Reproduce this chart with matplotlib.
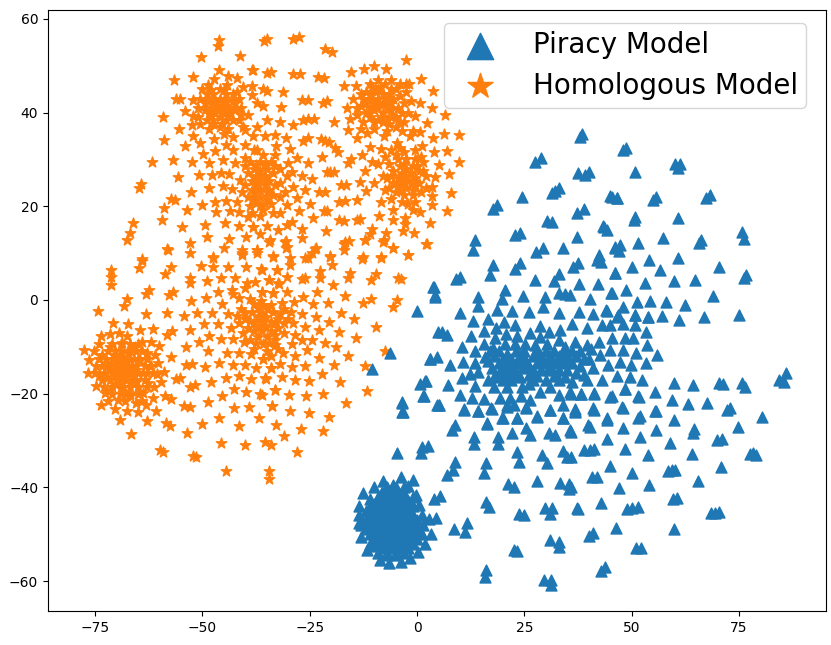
# t-SNE scatter of the two models
import numpy as np, matplotlib
matplotlib.use('Agg')
import matplotlib.pyplot as plt

# Homologous model, by region of the map
homo_top_left = [(-46.1,55.5),(-46.3,54.2),(-50.4,51.8),(-41.2,52.1),(-46.1,49.1),(-38.5,49.1),(-56.6,47),(-52.2,47.6),(-44.1,47.9),(-42,47.3),(-47.3,47.1),(-56.1,43),(-55.2,43),(-59.1,39),(-55.4,36.5),(-58.9,34.2),(-54,32.9),(-61.8,29.5),(-56.8,29.9),(-52.4,29.5),(-55.7,26.2),(-50.8,26.6),(-64.9,24),(-64.4,24.8),(-52.6,23),(-48.5,23.9),(-57.3,21.5),(-56.4,21.3),(-58.9,19.7),(-53.5,19.1),(-50,20.3),(-66.3,16.5),(-59.5,17),(-66.9,14.3),(-67.5,12.8),(-54.8,15.6),(-49.5,16),(-49,13.4),(-52.9,12.1),(-58.2,10.9),(-52.9,10.1),(-64,8.7),
(-44.7,16.4),(-41.4,15.8),(-38.3,15.5),(-43.9,13),(-39.9,13.5),(-44.9,11),(-40.8,10.7),(-37.3,10.7),(-47.6,9.1),(-40.8,9.6),(-46.9,18.7),(-43.5,18.9),(-41.4,18.7),(-39.5,17.7),(-47,21),(-44.5,21.2),(-41.9,21),(-45.3,24.4),(-43.2,23.7),(-40.8,23.1),(-47.7,26.7),(-45.7,27.2),(-43.8,26.9),(-41.2,25.6),(-48.4,29.3),(-45.3,29.9),(-42.4,29.3),(-40.2,30.3),(-49.9,31.1),(-47,31.9),(-42.8,32.1),(-40,33),(-37.3,32.1),(-44.6,33.1),(-50.5,33.6),(-52.1,35),(-47.4,34.3),(-42.8,34.7),(-38.3,34.9),(-52.5,37.3),(-37.3,37),(-54,40.4),(-52.1,42.7),(-50.2,45),(-48.8,45.9),(-44.2,45.9),(-40.6,45.4),(-38.5,45.7),(-38.5,43.8),(-37.2,42),(-52.1,39.2),(-39.3,39.5),(-40,36.3)]

homo_blob_a = [(-46,41),(-45,42),(-47,42),(-46,43),(-44,41),(-48,41),(-45,40),(-47,40),(-46,39),(-44,39.5),(-48,39.5),(-43,42.5),(-49,42.5),(-44.5,44),(-47.5,44),(-42.5,40.5),(-49.5,40.5),(-43,38.5),(-49,38.5),(-45.5,37.5),(-47.5,37.5),(-50.5,43),(-41.5,43),(-41,41),(-50.5,37.5),(-41.5,38.5),(-46,45),(-42,44.5),(-48.5,36.5),(-44,36.5),
(-45.5,41.5),(-46.5,40.5),(-44.5,42.5),(-47.5,42.5),(-44.5,38.5),(-47.5,38.5),(-43.5,40),(-48.5,40),(-46,37),(-42.5,42),(-49.5,42),(-43,44),(-49,44),(-51,41),(-41,39.5),(-51,39),(-40.5,37),(-45,35.5),(-48,44.8),(-45,44.8)]

homo_top_mid = [(-35.6,55.3),(-35,55.7),(-28.8,55.7),(-27.4,56.2),(-21.4,53.5),(-19.9,53),(-2.5,51.3),(-38.3,49.1),(-34.1,48.7),(-35,48.4),(-28.8,48.2),(-27.2,48.3),(-23,47.7),(-21.7,47.3),(-15.4,48.6),(-12.3,49.3),(-10.1,50),(-7.2,49.4),(0.9,47.1),(-1.8,46.1),(-17,45.6),(-14.2,45.7),(3.8,44.6),(-31.3,44.5),(-35,44.7),(-36,45),(-26.9,42.7),(-25.5,42.7),(-20.9,42.4),(-21.8,42.1),(-31.8,41.2),(-35.8,41.4),(-16.4,41),(3.4,40.9),(0.6,42),(-25.5,38.6),(-24,38.7),(-26.5,38.4),(-19.3,37.9),(-29,37.3),(-31.9,37.9),(-35,38.4),(-15.6,38.6),(-0.4,39.2),(6.6,39.5),(2.4,37.7),(-16.2,36.3),(-14,34.5),(0.6,35.9),(3.7,34.6),(6.3,35.4),(9.8,35.3),(-1.6,34.9),(-7.7,34.9),(-11.6,35.7),(-33,35.2),(-30.5,34.6),(-35.4,34.9),(-26.5,34),(-25.3,34.5),(-22.4,34.3),(-20.6,33.8),(-21.5,34),(-19.1,32.4),(-18.5,31.6),(-10.9,32.6),(-8.4,32.3),(-4.7,33.5),(-4,32.5),(1.1,32.8),(7,31.9),(4,31.5),(9.7,29.4),(5.1,28.8),(7.4,26.8),(4.3,26.2),(8,22.8),(3.5,24.2),(3.4,22.1),(3.4,20.2),(7,18.9),(0.7,18.8),(-1,19.2),(-5.5,19.2),(-8.9,18),(-5.5,17),(-2.8,17.5),(-2.8,16.2),(3.1,16.5),(-3.3,14.7),(-0.7,14.3),(2.3,12),(-5.5,11),(-2.1,9.6),(-7.2,14.3),(-7.8,12.8),(-10.5,15.1),(-10.9,14.1),(-12.2,12.8),(-15.9,12.5),(-17.1,12),(-17,10.7),(-21.2,14.8),(-13.3,17.2),(-14,17.1),(-18.3,17),(-17.1,16.8),(-24.3,17.5),(-21.7,18.9),(-20.9,18.9),(-27.6,18.9),(-31.9,18.5),(-30.2,20.3),(-13.9,21.4),(-18.3,21),(-16.7,21.1),(-25,20.5),(-27.9,21.7),(-22.8,23),(-21.5,23),(-26.2,23.5),(-11.9,23.2),(-17.8,24.6),(-16.5,24.6),(-13.3,25.2),(-24.4,25.9),(-26.9,26.5),(-21,27.4),(-19.3,27.4),(-20.2,27.4),(-12.2,27.5),(-25.5,29.2),(-16,29.3),(-15.5,30),(-22.2,30.6),(-27.9,30.3),(-12.9,31),(-29.6,32.2),(-32.8,32.8),(-29.2,27.4),(-30,29.2),(-28.8,24.2),(-30.7,23.1),(-30.2,26.4),(-29.2,16.7),(-30.4,16),(-32.3,15),(-34.9,15.7),(-36.6,14.1),(-38.3,15.5),(-34.2,12.7),(-30.5,12.5),(-30.5,11),(-26.9,15.1),(-26.9,13.2),(-23.5,11),(-24.5,10),(-20.2,9.4),(-12.6,9.1),(-8.4,9.1),(-33.5,9.4),(-29.7,9),(-37.2,10.7),(-26.1,9)]

homo_blob_b = [(-13,44),(-14,41),(-11,46),(-9,47),(-6,47),(-4,46),(-2.5,44.5),(-1.5,42.5),(-2,40),(-3,38),(-5,37),(-7,36),(-10,36.5),(-12.5,38),(-14,39.5),(-15,43),(-12,42),(-11,39),(-9,38.5),(-6,39),(-4.5,41),(-4,43.5),(-6,45),(-8.5,45.5),(-11,44),(-1,36),
(-8,42),(-9,43),(-7,43),(-8,44),(-10,42),(-6,42),(-9,41),(-7,41),(-8,40),(-10,40.5),(-6,40.5),(-9.5,44.5),(-6.5,44),(-11,43),(-5.5,43),(-8,38),(-9,45),(-7.5,46),(-12,40),(-13,36.5),(-3.5,36),(-9,42),(-7,42),
(-11,41),(-5,39),(-5,45),(-12,44.5),(-3,42),(-3.5,40),(-10,38),(-7,38.5),(-12.5,43),(-2.5,46),(-8.5,39),(-10.5,45.5),(-4,38),(-6.5,37.5),(-13,41.5)]

homo_blob_c = [(-2.5,26),(-3.5,27),(-1.5,27),(-2.5,28),(-4.5,26),(-0.5,26),(-3.5,25),(-1.5,25),(-2.5,24),(-4.5,24.5),(-0.5,24.5),(-4,28.5),(-1,28.5),(-5.5,27.5),(0.5,27.5),(-5.5,25),(0.5,25),(-3,22.5),(-1,22.5),(-5,23),(1,23),(-2.5,30),(-4.5,30),(-0.5,30),(-6.5,29),(1.5,29.5),(-7,26),(2,26.5),(-6,21.5),(-2,20.5),(-0.5,32),(-3,31.5),(-6,32),(-7.5,30.5),(-9,29),(-8,26.5),(-7.5,23.5),(-8.5,21),(-10,25),(-10.5,29.5),
(-3,26.5),(-2,25.5),(-4,23.5),(-1,23.5),(1.5,27.5),(-6,26.5),(-6.5,24),(2,24),(-3.5,21),(-0.5,21),(-3,29),(0,28.5),(1,30.5),(-5,31)]

homo_blob_d = [(-36.6,25.5),(-37.5,26.5),(-35.5,26.5),(-36.5,27.5),(-38.5,25.5),(-34.5,25.5),(-37.5,24.5),(-35.5,24.5),(-36.5,23.5),(-38.5,23.5),(-34.5,23.5),(-38,28),(-35,28),(-39.5,27),(-33.5,27),(-36.5,22),(-38,21.5),(-35,21.5),(-36.5,20),(-36.5,29.5),(-39,29.5),(-34,29.5),(-40,24.5),(-33,24.5),(-34,20.5),(-39,20),(-36,31),(-33,31),(-38,32),(-32,28),(-32,22),(-33.5,18.5),(-36.5,18),(-32,25),(-38.5,18.5),
(-37,25),(-36,26),(-35,23),(-38,23),(-37.5,20.8),(-35.5,20.5),(-37.5,28.8),(-35.5,29),(-39.5,22),(-33.5,22.5),(-33,28.5),(-40,28.5),(-36,19.3)]

homo_left = [(-71.4,6.3),(-71.3,5),(-71.3,3.2),(-64.2,8.4),(-64.9,6.8),(-57.4,7),(-58.7,5.6),(-58.1,10.6),(-50.4,7.3),(-47.6,8.9),(-47.5,7.1),(-44,7.1),(-39.9,7),(-36.4,6.6),(-40.9,10),(-37.2,10),(-32.7,6.4),(-53,4.7),(-52.9,3.6),(-48.9,4.1),(-45.6,4.6),(-42.4,4.7),(-39.7,3.7),(-37.7,3.9),(-34.6,4.3),(-32.3,3.6),(-62.4,2.2),(-63.2,1.2),(-56.8,1.7),(-57.8,1.1),(-46.3,1.8),(-43.2,2.2),(-43,1.2),(-40.1,2.5),(-36.1,1.8),(-33.5,1.4),(-49.2,0.4),(-52.6,-0.3),(-67.7,0.2),(-68.3,-1.3),(-74.3,-2.3),(-45.4,-0.8),(-41.5,0.4),(-38.9,0.2),(-36.3,-0.3),(-63.2,-3),(-58.3,-2.8),(-54.4,-3.5),(-51.2,-2.7),(-47.8,-2.8),(-44,-3),(-70.8,-4.9),(-67.4,-5.2),(-64.6,-6.5),(-61.6,-6.2),(-57.2,-6.7),(-58.2,-7.4),(-52.8,-6.4),(-49.6,-5.2),(-46.3,-5.2),(-43.3,-6),(-50.7,-8.9),(-48.5,-7.7),(-45.7,-8.4),(-42.8,-8.4),(-40.3,-8.9),(-53.8,-10),(-48.6,-11),(-44.3,-11.4),(-41.5,-11.4),(-38.7,-11.6),(-36,-12.6),(-34.1,-11.9),(-57.4,-12.1),(-53.9,-13.9),(-52.5,-13.7),(-49.3,-14.4),(-46.1,-13.5),(-43,-13.9),(-40.1,-13.9),(-37.5,-14.6),(-34.1,-14.6),(-56.2,-16.8),(-55.2,-16.7),(-52.9,-18.5),(-51.7,-18.2),(-48.1,-17.6),(-44.6,-16.6),(-41.4,-16.2),(-38.6,-16.9),(-35.3,-16.8),(-42.6,-19.1),(-39.8,-19.7),(-36.6,-20.1),(-33.1,-19.2),(-58.7,-20.6),(-57.4,-21.2),(-45.4,-20.6),(-48.6,-21.8),(-54.4,-22.7),(-52.9,-22.9),(-42.6,-23.1),(-39.1,-22.9),(-33.9,-22.6),(-36.8,-25.2),(-46.1,-25.3),(-50,-26.5),(-58.5,-26.3),(-57.6,-26.9),(-41.6,-27),(-32.9,-26.6),(-53.7,-28.3),(-66.7,-28.6),(-45.7,-30.6),(-40.1,-31),(-35.4,-30.4),(-60,-32),(-59.3,-32.5),(-52.3,-33.4),(-51.5,-33.6),(-44.6,-36.6),(-34.6,-36.6),(-34.4,-38.3)]

homo_blob_e = [(-77.6,-10.7),(-75.2,-11),(-76.4,-12.8),(-76.6,-15.6),(-74.8,-14.2),(-74.8,-18.3),(-73.7,-7.8),(-74,-9.4),(-71.5,-7.2),(-69.4,-7.1),(-67.7,-7.8),(-64.2,-8.9),(-62,-8.9),(-60.1,-9.8),(-61,-11.7),(-60.3,-13.5),(-59,-15.3),(-60.7,-15.8),(-59.7,-17.6),(-61.2,-18.5),(-61.6,-21),(-63.2,-22.5),(-60.8,-23.7),(-63,-25.8),(-65.1,-24),(-67.5,-23.6),(-70.4,-23.3),(-73.6,-22.5),(-69.2,-25.6),(-65.5,-22.1),(-72.7,-19.9),(-69.6,-21.3),(-66.9,-20.6),(-63.8,-19.9),(-62.6,-17.8),(-62.2,-14.2),(-63,-11.4),(-65.7,-10),(-68.8,-9.2),(-71.5,-10),(-73.5,-11.7),(-74,-16.3),(-71.5,-19.2),(-68,-19.9),(-65,-18.5),(-63.8,-15.6),(-64.6,-12.8),(-67.3,-11.4),(-70.4,-11.7),(-72.3,-13.9),(-72.3,-16.7),
(-68.5,-14.2),(-69.5,-13.2),(-67.5,-13.2),(-68.5,-12.2),(-70.5,-14.2),(-66.5,-14.2),(-69.5,-15.2),(-67.5,-15.2),(-68.5,-16.2),(-70.5,-16.2),(-66.5,-16.2),(-70.5,-12.8),(-66,-12.5),(-71.5,-15),(-65.5,-15),(-69,-17.5),(-67,-17.5),(-70.5,-18),(-65.5,-17.5),(-68.5,-18.5),
(-71,-9.5),(-69,-9.5),(-67,-9.5),(-65,-9.5),(-72,-11),(-70.5,-11),(-69,-11),(-67,-11),(-65.5,-11),(-64,-11),(-74,-12.5),(-72.5,-12.5),(-71,-12.5),(-69,-12.5),(-67,-12.5),(-65,-12.5),(-63,-12.5),(-73.5,-14),(-71.5,-14),(-69.5,-14),(-67.5,-14),(-65.5,-14),(-63.5,-14),(-62,-14),(-75,-15.5),(-73,-15.5),(-71,-15.5),(-69,-15.5),(-67,-15.5),(-65,-15.5),(-63,-15.5),(-61.5,-15.5),(-73.5,-17),(-71.5,-17),(-69.5,-17),(-67.5,-17),(-65.5,-17),(-63.5,-17),(-73,-18.5),(-71,-18.5),(-69,-18.5),(-67,-18.5),(-65,-18.5),(-63,-18.5),(-71,-20),(-69,-20),(-67,-20),(-65,-20),(-72,-21.5),(-68,-21.5),(-64,-21.5)]

homo_blob_f = [(-36.1,-4.7),(-37.1,-3.7),(-35.1,-3.7),(-36.1,-2.7),(-38.1,-4.7),(-34.1,-4.7),(-37.1,-5.7),(-35.1,-5.7),(-36.1,-6.7),(-38.1,-6.7),(-34.1,-6.7),(-38.5,-2.5),(-33.5,-2.5),(-40,-4),(-32.5,-4),(-39.5,-6),(-32.5,-6),(-37,-8),(-35,-8),(-36,-9.5),(-39,-8.5),(-33,-8.5),(-36,-1),(-38,-0.8),(-34,-1),(-41,-2),(-31,-2),(-41.5,-5),(-31,-7),(-35,-11),(-38,-10.5),(-32.5,-10.5),
(-40.5,-7),(-40,-2.8),(-37,-1.8),(-35,-2),(-32,-3),(-31,-5),(-33,-7.5),(-37.5,-9.2),(-34.5,-9.2),(-39,-4.5),(-33,-5),(-42,-3.5),(-30,-4),(-36.5,-3.5),(-35.5,-5.5)]

homo_mid = [(-34.4,12.4),(-30.8,12.4),(-30.4,11.4),(-16.8,12.4),(-12.1,12.7),(-7.9,12.4),(-5.5,11),(2.1,12),(-2,9.6),(-33.5,9.2),(-29.6,7.5),(-25.3,8.9),(-23.8,10.8),(-20.3,9.2),(-19.9,7.5),(-12.9,8.7),(-8.5,8.9),(-36.2,6.5),(-32.6,6.4),(-22.6,6.2),(-22.6,4.6),(-15.6,5.7),(-16.2,4.6),(-9.6,5.5),(-10.7,4.3),(-4.4,4.6),(-3.7,4.4),(-30.2,4.8),(-26.9,4.4),(-26,4.6),(-34.6,4.3),(-32.2,3.5),(-19.7,3.2),(-23.2,1.8),(-16.8,0.8),(-26.5,0.6),(-30.4,1.6),(-33.5,1.4),(-36.1,1.8),(-10.8,0.2),(-12.7,-0.6),(-4.7,0),(-5.7,-1.4),(-20.7,-0.7),(-24.2,-0.9),(-28.7,-0.5),(-31.5,-0.7),(-17.8,-2.7),(-14.8,-4),(-26.9,-2.9),(-23.5,-3.6),(-29.4,-2.5),(-20.5,-4.6),(-29,-5),(-26.1,-5.8),(-22.8,-6.4),(-18.3,-6.8),(-9.6,-5.8),(-14.2,-8.2),(-24.4,-8.6),(-26.7,-8.6),(-28.4,-7.5),(-21.4,-9.1),(-19,-10.1),(-29.2,-9.4),(-33.1,-9.6),(-25.6,-10.7),(-31.3,-11.4),(-28.4,-12),(-22.9,-12.3),(-16,-12),(-7.5,-10.9),(-35.8,-12.7),(-31.9,-13.7),(-29.2,-14.4),(-26.1,-14.2),(-19.4,-13.9),(-12.1,-14.1),(-34.1,-14.5),(-22.1,-15.8),(-31.5,-16.4),(-28.4,-17),(-25.2,-17.2),(-35.4,-16.7),(-18,-17.6),(-33.1,-19.2),(-29.8,-20.2),(-25.9,-20.4),(-21.8,-20),(-11.7,-19.4),(-36.2,-20.3),(-16.6,-21.9),(-33.8,-22.6),(-29.6,-23.7),(-25.2,-24.2),(-20.5,-24.9),(-28,-32.5),(-31,-29),(-27,-27.5),(-22,-28),(-34,-31)]

# Piracy model, by region of the map
piracy_top = [(38.5,35.4),(38,34.8),(27.5,29.5),(29,30.2),(37.6,27.2),(39.2,26.7),(40,27.3),(32.2,23.3),(31.4,22.9),(33,23.8),(45.4,22),(46.5,21.7),(24.4,21.9),(17.8,19.5),(18.7,20.2),(38.8,19.5),(37.2,18.6),(30.2,16.9),(31.4,16.7),(22.8,13.8),(23.9,14.3),(43.3,15.8),(44.2,15),(37.2,13.5),(13.5,12.8),(13.1,10.6),(29.3,11),(27.7,10.3),(34,11),(46.2,11),(41.9,8.5),(42.3,9.5),(24,7.8),(22.8,6.6),(37.6,7.8),(36.4,7.1),(17.6,7.4),(17,5.3),(10,5),(9.1,4.4),(27.4,4.2),(33,5.6),(31.8,4),(46.2,5.8),(37.8,3.4),(42.1,3.5),(4,2.8),(4.2,0.7),(20.5,2.1),(19.7,0.3),(24.8,0.8),(29.8,0.7),(29.4,-1.5),(34.5,1.3),(33,1.4),(35.7,1),(40.3,0.3),(45.4,1.4),(14.3,0.7),(14.1,-1.3),(10,-2.7),(18.6,-2.2),(22.1,-2.3),(26,-2.5),(33,-2.7),(37.8,-2.5),(41.1,-3.1),(44,-2.2),(46.9,-3.2),
(48.8,32.4),(48,32.1),(50.9,27.4),(60.2,29.1),(61.3,29),(60.7,28.1),(45,22.2),(46.7,21.7),(55.1,21.3),(55.7,21.9),(67.4,21.7),(68.3,22.4),(50.5,17),(50.9,17.7),(60.8,17.4),(43.6,15.6),(75.7,14.6),(76.1,13.1),(57.3,13.3),(46.2,11.4),(47.4,11.7),(47,10.5),(51.4,12.1),(65.6,12.1),(66.2,12.7),(60.8,8.9),(54.1,8.5),(42.9,8.1),(50.1,7),(56.7,6.5),(70.3,7.1),(46.2,5.8),(76.1,4.6),(76.7,5.3),(53.2,3.7),(59.8,4),(64.7,4.2),(48.8,2.2),(45.2,1.4),(68.9,0.8),(51.2,-0.4),(54.4,-0.2),(58.1,-0.4),(62.5,-1.1),(48.1,-1.5),(44.3,-2.3),(50.7,-3.2),(53.8,-3.6),(57,-3.4),(61,-4.2),(66.8,-3.6),(75,-3.2),(46.6,-3.6),(3.8,2.8),(4.2,1),(4.9,-6.8),(-0.1,-2.3)]

piracy_middle = [(5.8,-6.8),(6.9,-7.5),(13.1,-4.4),(16.6,-4.1),(18.4,-5.9),(20.3,-4.8),(22.8,-5.3),(15.5,-6.6),(12.5,-7.7),(20.7,-7.3),(23.2,-7.7),(26.3,-7),(28.7,-5.6),(30.8,-6.8),(33.2,-6.5),(36,-5.1),(39.5,-6),(43,-5.3),(45,-5.3),(48,-5.1),(50.8,-3.2),(50.8,-5.3),(53.8,-3.7),(53.4,-6.8),(10.4,-10.1),(13.4,-11),(15.5,-9.3),(18.2,-8.2),(20.5,-9.3),(22.8,-9.4),(25.2,-9.4),(28.7,-8),(27.5,-9.6),(30.2,-9.3),(33,-8.5),(36.8,-8.9),(34.5,-10),(39.5,-9.6),(42.3,-8.9),(45,-10.7),(45.4,-8.2),(48.5,-8.2),(50.4,-8.2),(53.5,-9.6),(48.1,-10.7),(51,-11.4),(55.9,-11.7),(42.7,-11.7),(3,-12.5),(4.6,-12.1),(7.7,-13.9),(10.8,-13.2),(13.5,-13.5),(15.9,-12.1),(17.8,-10.3),(14.3,-15.3),(12.4,-15.8),(10.4,-16.7),(7.1,-18.1),(1.9,-17.4),(0.7,-18),(13.5,-18.4),(9.9,-20.3),(1.6,-20.6),(12.7,-21),(15.5,-21.2),(17.3,-23.1),(14.1,-23.6),(11,-23.3),(5.2,-22.4),(16.4,-26.3),(19.7,-25.3),(23.2,-25.1),(27.9,-24.8),(34.1,-25.1),(36.8,-23.3),(31,-23.5),(21,-22.8),(25.3,-22.9),(24.2,-20.6),(21.7,-21),(19.3,-21),(28.7,-19.6),(26.3,-21.4),(33,-20.3),(35.7,-19.6),(38.2,-20.1),(41.3,-19.9),(41.1,-23.1),(44.2,-25.3),(39.9,-26.7),(47.7,-22.9),(51.6,-20.6),(48.5,-19.1),(45.4,-20.6),(43,-17.1),(46.5,-16.2),(49.7,-16.4),(52.4,-17.1),(47.3,-13.2),(49.8,-13.9),(53.4,-13.4),(41.1,-14.6),(44.6,-13.9),(39.5,-17.1),(38.8,-12.5),(55.5,-23.8),(51.6,-25.3),(-6.3,-11.3),(-10.6,-14.8),(3,-12.5),(2.1,-17.4),(1.5,-20.5),(-3.6,-21.7),(-3.3,-23.9),(4.6,-22.4)]

piracy_dense = [(21,-13.5),(20,-12.5),(22,-12.5),(21,-11.5),(19,-13.5),(23,-13.5),(20,-14.5),(22,-14.5),(21,-15.5),(19,-15.5),(23,-15.5),(18,-12),(24,-12),(17.5,-14.5),(24.5,-14.5),(18,-16.5),(24,-16.5),(20,-17),(22,-17),(25.5,-13),(21,-18.5),(18,-18.5),(24.5,-18.5),(16.5,-17),
(27,-12),(29,-12),(31,-12),(33,-12),(35,-12),(37,-12),(28,-13.5),(30,-13.5),(32,-13.5),(34,-13.5),(36,-13.5),(38,-14),(27,-15),(29,-15),(31,-15),(33,-15),(35,-15),(37,-15.5),(28,-10.8),(30,-10.8),(32,-10.8),(34,-11),(36,-10.8),(27,-17),(30,-17),(33,-17),(36,-17.5),(39,-16),(31,-18.5),(26,-18),
(19,-11),(23,-11),(25,-10.8),(26,-14),(16.5,-13),(17,-11),(20,-16),(22,-16),(26,-16),(28,-16.2),(32,-16.2),(34.5,-16.5),(38,-11),(40,-12.5),(40.5,-10.5),(25,-12.5),(31,-14),(33,-13),(29,-13),(35,-13)]

piracy_lower_right = [(59.8,-17.7),(64.2,-18.2),(70.3,-17.8),(71.2,-17.9),(76.5,-18.5),(75.8,-17.7),(85.4,-17.5),(86,-15.5),(84.3,-17.1),(55.5,-19.6),(48.5,-19),(51.8,-20.8),(45,-20.7),(41.3,-20.1),(38.2,-20.1),(35.9,-20),(59.4,-21.4),(63.2,-22.3),(67.6,-22.1),(72.2,-23.4),(73,-23),(55.7,-23.6),(48,-23.1),(41.3,-23.4),(36.9,-23.6),(52,-24.8),(59.8,-25.6),(44.2,-25.6),(80.5,-24.9),(64.6,-27.6),(64.4,-28.5),(74.7,-27.2),(55.7,-27.8),(48.1,-27.4),(40.2,-27.2),(35.9,-28.1),(70,-29.9),(71,-29.7),(51.9,-29.3),(44.2,-29.6),(59,-30.6),(48.5,-31.8),(40.4,-32.1),(38.8,-32.1),(41.3,-31.9),(78.3,-32.6),(77.6,-32.9),(79,-33),(64,-32.9),(53.9,-33),(35.9,-33.5),(44.9,-35.5),(59.4,-36.3),(58.4,-36.6),(60,-36.4),(70.9,-35.6),(50.1,-37),(40.8,-37.9),(42,-37.7),(65.5,-38.6),(54.1,-39.4),(47.1,-40.2),(35.9,-39.9),(59.6,-42.4),(60.5,-42.3),(42.8,-43.3),(51.6,-44.3),(37.4,-44.7),(50.1,-44.5),(49,-44.6),(69.5,-45.4),(68.5,-45.5),(70.3,-45.3),(46.3,-48.6),(59.8,-49),(40,-50.3),(41,-49.7),(52.2,-53),(51,-53),(42.8,-57.8),(43.9,-57)]

piracy_lower_left = [(-3.5,-22.1),(-3.4,-23.9),(5.2,-22.5),(11,-23.4),(14.1,-23.7),(17.4,-23.2),(21,-22.5),(22.7,-22.5),(25.3,-23),(28,-25),(31,-23.5),(34,-22.5),(36.9,-23.9),(16.4,-26.4),(20,-25.3),(23.3,-25.1),(34,-25.1),(8.9,-26.7),(8.1,-27.8),(22.1,-28.4),(25.5,-27.4),(26.4,-28.9),(30.7,-28.5),(32.2,-28.9),(35.7,-27.8),(13.3,-29.2),(13.3,-30.8),(18.8,-29.2),(18.8,-30.8),(-4.7,-32.6),(1.1,-31.4),(2.5,-31.2),(0.9,-32.6),(23.4,-32.4),(23.8,-34.6),(29.1,-33.1),(30.3,-34.9),(34,-32.2),(34.9,-33.5),(8.9,-34.6),(8.4,-36.3),(7,-37.4),(16,-34.9),(15.5,-36.9),(-3.7,-37.8),(-1,-38.5),(21.3,-39.2),(22.5,-40),(28,-38.6),(33.4,-39.1),(35.3,-39.2),(35.3,-40.3),(5.3,-41.9),(4,-42.5),(16,-43.1),(16.8,-44.2),(23.7,-45.6),(25,-46),(29.9,-44.5),(31.4,-44.5),(31,-45.6),(37.3,-44.5),(4.5,-46.5),(2.9,-46.7),(8.5,-49),(11.6,-47.7),(11.2,-49.5),(3.2,-49.9),(22.5,-53.4),(23.3,-53.6),(30.9,-51.2),(33,-51.7),(33,-52.7),(16,-57.7),(15.9,-59.1),(29.5,-59.7),(31.1,-59.8),(31.3,-60.9)]

piracy_blob = [(-8,-38.7),(-10.1,-40),(-12.5,-41.2),(-13.6,-44),(-13.5,-45.9),(-13.6,-47.6),(-13,-50.6),(-11.7,-53.4),(-8.6,-55.6),(-6.5,-56.1),(-3.8,-55.9),(-1.6,-55),(0.2,-53.9),(1.9,-52),(1.1,-49.9),(1.5,-48.1),(1.1,-46),(0.4,-43.8),(-0.2,-41.7),(-2,-39.8),(-5.5,-39.6),(-8.2,-41),(-2.8,-41.7),(-10.9,-42.4),(-5.1,-40.6),
(-6,-47),(-8,-47),(-10,-47),(-12,-47),(-4,-47),(-2,-47),(0,-47),(-6,-45),(-8,-45),(-10,-45),(-12,-45),(-4,-45),(-2,-45),(-6,-43),(-8,-43),(-10,-43.5),(-4,-43),(-2,-43),(-6,-49),(-8,-49),(-10,-49),(-12,-49),(-4,-49),(-2,-49),(0,-49),(-6,-51),(-8,-51),(-10,-51),(-4,-51),(-2,-51),(0,-51),(-6,-53),(-8,-53),(-10,-52.5),(-4,-53),(-2,-53),(-5,-54.5),(-7,-54.5),(-6,-41.5),(-4,-41.5),(-8,-41.5),
(-7,-40),(-5,-40),(-3,-40),(-9,-42),(-7,-42),(-5,-42),(-3,-42),(-1,-42),(-11,-44),(-9,-44),(-7,-44),(-5,-44),(-3,-44),(-1,-44),(-11,-46),(-9,-46),(-7,-46),(-5,-46),(-3,-46),(-1,-46),(-13,-48),(-11,-48),(-9,-48),(-7,-48),(-5,-48),(-3,-48),(-1,-48),(-11,-50),(-9,-50),(-7,-50),(-5,-50),(-3,-50),(-1,-50),(-11,-52),(-9,-52),(-7,-52),(-5,-52),(-3,-52),(-1,-52),(-9,-54),(-7,-54),(-5,-54),(-3,-54)]

homologous_points = homo_top_left + homo_blob_a + homo_top_mid + homo_blob_b + homo_blob_c + homo_blob_d + homo_left + homo_blob_e + homo_blob_f + homo_mid
piracy_points = piracy_top + piracy_middle + piracy_dense + piracy_lower_right + piracy_lower_left + piracy_blob

homologous_xy = np.array(homologous_points)
piracy_xy = np.array(piracy_points)

fig = plt.figure(figsize=(8.31, 6.45), dpi=100, facecolor='white')
ax = fig.add_axes([48/831, 1-611/645, 778/831, 601/645])

ax.scatter(piracy_xy[:,0], piracy_xy[:,1], s=62, marker='^', color='tab:blue', label='Piracy Model', zorder=3)
ax.scatter(homologous_xy[:,0], homologous_xy[:,1], s=62, marker='*', color='tab:orange', label='Homologous Model', zorder=2)

ax.set_xlim(-86, 95.3)
ax.set_ylim(-66.4, 61.9)
ax.set_xticks([-75, -50, -25, 0, 25, 50, 75])
ax.set_yticks([-60, -40, -20, 0, 20, 40, 60])
ax.tick_params(labelsize=10)

leg = ax.legend(loc='upper right', bbox_to_anchor=(0.9925, 1.0017), fontsize=20, markerscale=2.4,
                borderpad=0.3, handletextpad=0.9, labelspacing=0.45)

plt.savefig('out.png', dpi=100)
